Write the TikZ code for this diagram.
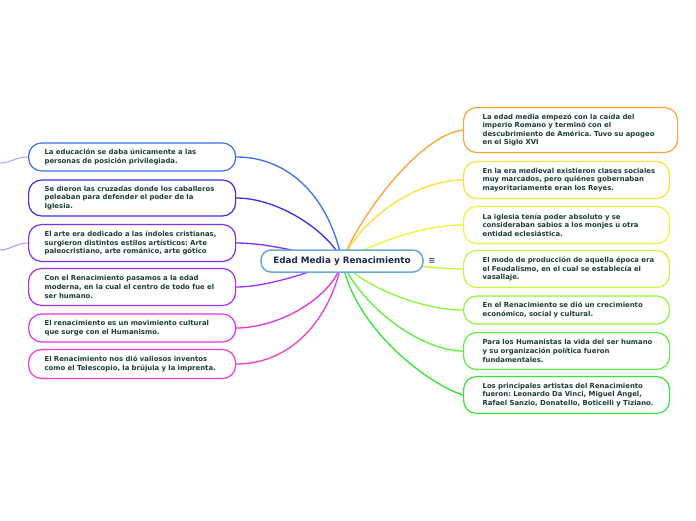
\documentclass[tikz,border=0pt]{standalone}
\usepackage{fontspec}
\setmainfont{DejaVu Sans}
\usetikzlibrary{backgrounds}
\frenchspacing
\definecolor{cL1}{HTML}{3D6DF2}
\definecolor{cL2}{HTML}{3A2FE8}
\definecolor{cL3}{HTML}{7B2FF0}
\definecolor{cL4}{HTML}{A62DF0}
\definecolor{cL5}{HTML}{E62EE6}
\definecolor{cL6}{HTML}{F03CC8}
\definecolor{cR1}{HTML}{FFA233}
\definecolor{cR2}{HTML}{FFE033}
\definecolor{cR3}{HTML}{EEF533}
\definecolor{cR4}{HTML}{C6F53A}
\definecolor{cR5}{HTML}{8EF53A}
\definecolor{cR6}{HTML}{5CF03A}
\definecolor{cR7}{HTML}{33E633}
\definecolor{txt}{HTML}{1D3F2F}
\definecolor{ctrb}{HTML}{6AA8D8}
\definecolor{ctrt}{HTML}{1A2B4C}
\definecolor{menuc}{HTML}{3B5B8C}
\newcommand{\tline}[1]{\mbox{#1}}
\tikzset{
  leaf/.style={draw=#1, line width=1.2pt, rounded corners=13pt, fill=white,
    align=left, anchor=west, font=\bfseries\fontsize{6.9}{8.6}\selectfont\frenchspacing,
    text=txt, inner ysep=3pt},
  lbox/.style={leaf=#1, inner xsep=16pt, text width=175pt},
  rbox/.style={leaf=#1, inner xsep=19pt, text width=168pt},
  link/.style={draw=#1, line width=1.3pt},
  stub/.style={draw=#1!55, line width=1pt}
}
\begin{document}
\begin{tikzpicture}[x=1pt,y=-1pt]
\useasboundingbox (0,0) rectangle (696,520);

\node[draw=ctrb, line width=1.5pt, rounded corners=10pt, fill=white,
  minimum width=162pt, minimum height=22pt,
  font=\bfseries\fontsize{8.8}{10}\selectfont, text=ctrt] (ctr) at (342,261) {Edad Media y Renacimiento};
\node[font=\bfseries\fontsize{8.5}{9}\selectfont, text=menuc] (menu) at (432,261) {≡};

% left
\node[lbox=cL1, minimum height=28pt] (l1) at (28,157) {\tline{La educación se daba únicamente a las}\\\tline{personas de posición privilegiada.}};
\node[lbox=cL2, minimum height=36pt] (l2) at (28,198) {\tline{Se dieron las cruzadas donde los caballeros}\\\tline{peleaban para defender el poder de la}\\\tline{Iglesia.}};
\node[lbox=cL3, minimum height=37pt] (l3) at (28,243) {\tline{El arte era dedicado a las índoles cristianas,}\\\tline{surgieron distintos estilos artísticos: Arte}\\\tline{paleocristiano, arte románico, arte gótico}};
\node[lbox=cL4, minimum height=37pt] (l4) at (28,287) {\tline{Con el Renacimiento pasamos a la edad}\\\tline{moderna, en la cual el centro de todo fue el}\\\tline{ser humano.}};
\node[lbox=cL5, minimum height=28pt] (l5) at (28,328) {\tline{El renacimiento es un movimiento cultural}\\\tline{que surge con el Humanismo.}};
\node[lbox=cL6, minimum height=29pt] (l6) at (28,364) {\tline{El Renacimiento nos dió valiosos inventos}\\\tline{como el Telescopio, la brújula y la imprenta.}};

% right
\node[rbox=cR1, text width=176pt, minimum height=45pt] (r1) at (463,130) {\tline{La edad media empezó con la caída del}\\\tline{imperio Romano y terminó con el}\\\tline{descubrimiento de América. Tuvo su apogeo}\\\tline{en el Siglo XVI}};
\node[rbox=cR2, minimum height=37pt] (r2) at (463,180) {\tline{En la era medieval existieron clases sociales}\\\tline{muy marcados, pero quiénes gobernaban}\\\tline{mayoritariamente eran los Reyes.}};
\node[rbox=cR3, minimum height=37pt] (r3) at (463,225) {\tline{La iglesia tenía poder absoluto y se}\\\tline{consideraban sabios a los monjes u otra}\\\tline{entidad eclesiástica.}};
\node[rbox=cR4, minimum height=37pt] (r4) at (463,269) {\tline{El modo de producción de aquella época era}\\\tline{el Feudalismo, en el cual se establecía el}\\\tline{vasallaje.}};
\node[rbox=cR5, minimum height=28pt] (r5) at (463,310) {\tline{En el Renacimiento se dió un crecimiento}\\\tline{económico, social y cultural.}};
\node[rbox=cR6, minimum height=37pt] (r6) at (463,351) {\tline{Para los Humanistas la vida del ser humano}\\\tline{y su organización política fueron}\\\tline{fundamentales.}};
\node[rbox=cR7, minimum height=37pt] (r7) at (463,395) {\tline{Los principales artistas del Renacimiento}\\\tline{fueron: Leonardo Da Vinci, Miguel Ángel,}\\\tline{Rafael Sanzio, Donatello, Boticelli y Tiziano.}};

\coordinate (e1) at (0,163);
\coordinate (e3) at (0,250);

\begin{scope}[on background layer]
\fill[white] (0,0) rectangle (696,520);
\draw[link=cL1] (ctr.center) .. controls +(-12,-61) and +(55,0) .. (l1.east);
\draw[link=cL2] (ctr.center) .. controls +(-10,-26) and +(45,0) .. (l2.east);
\draw[link=cL3] (ctr.center) .. controls +(-32,-6) and +(35,0) .. (l3.east);
\draw[link=cL4] (ctr.center) .. controls +(-22,7) and +(35,0) .. (l4.east);
\draw[link=cL5] (ctr.center) .. controls +(-7,34) and +(45,0) .. (l5.east);
\draw[link=cL6] (ctr.center) .. controls +(-12,59) and +(55,0) .. (l6.east);
\draw[link=cR1] (ctr.center) .. controls +(18,-46) and +(-43,5) .. (r1.west);
\draw[link=cR2] (ctr.center) .. controls +(18,-41) and +(-48,0) .. (r2.west);
\draw[link=cR3] (ctr.center) .. controls +(28,-16) and +(-43,0) .. (r3.west);
\draw[link=cR4] (ctr.center) .. controls +(58,1) and +(-33,0) .. (r4.west);
\draw[link=cR5] (ctr.center) .. controls +(18,24) and +(-43,0) .. (r5.west);
\draw[link=cR6] (ctr.center) .. controls +(18,44) and +(-43,0) .. (r6.west);
\draw[link=cR7] (ctr.center) .. controls +(13,69) and +(-33,-10) .. (r7.west);
\draw[stub=cL1] (l1.west) .. controls +(-12,0) and +(10,0) .. (e1);
\draw[stub=cL3] (l3.west) .. controls +(-12,0) and +(10,0) .. (e3);
\end{scope}
\end{tikzpicture}
\end{document}
